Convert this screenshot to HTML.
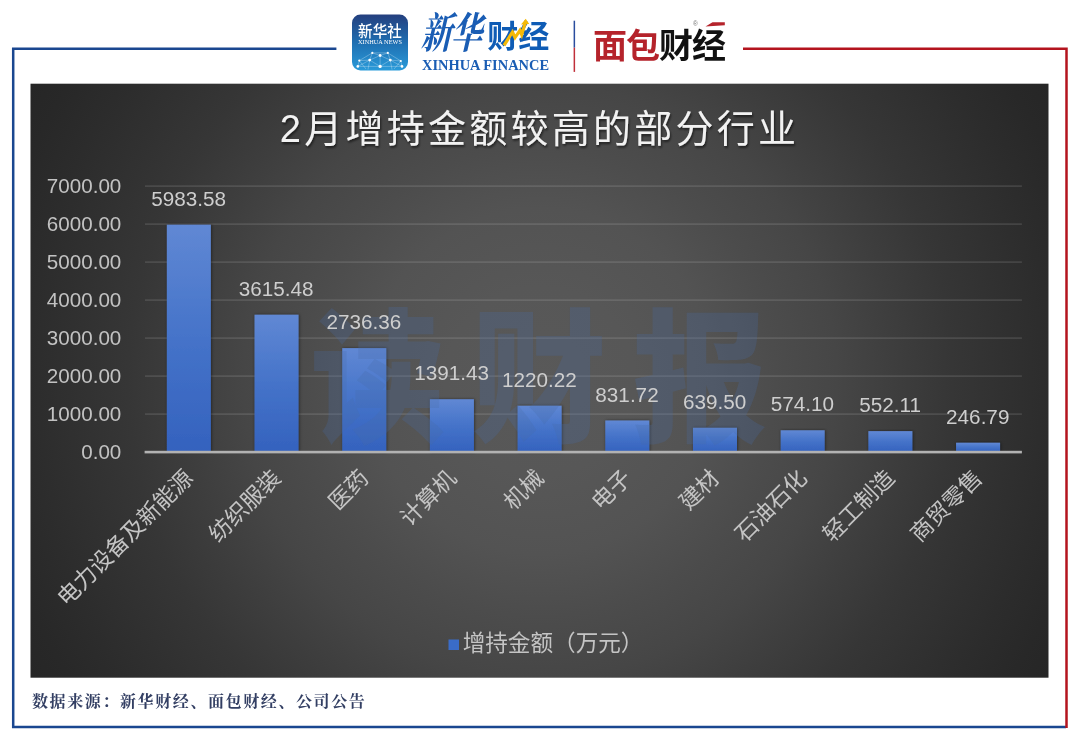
<!DOCTYPE html>
<html lang="zh-CN">
<head>
<meta charset="utf-8">
<title>2月增持金额较高的部分行业</title>
<style>
html,body{margin:0;padding:0;background:#fff;}
body{width:1080px;height:741px;overflow:hidden;position:relative;font-family:"Liberation Sans","Noto Sans CJK SC",sans-serif;}
svg{position:absolute;left:0;top:0;display:block;}
.ax{font-family:"Liberation Sans","Noto Sans CJK SC",sans-serif;font-size:20.6px;fill:#c2c2c2;}
.dl{font-family:"Liberation Sans","Noto Sans CJK SC",sans-serif;font-size:20.7px;fill:#cecece;}
.cat{font-family:"Liberation Sans","Noto Sans CJK SC",sans-serif;font-size:22.6px;fill:#c4c4c4;}
.ttl{font-family:"Liberation Sans","Noto Sans CJK SC",sans-serif;font-size:38px;font-weight:400;fill:#f2f2f2;letter-spacing:3.25px;}
.lg{font-family:"Liberation Sans","Noto Sans CJK SC",sans-serif;font-size:22.6px;fill:#c4c4c4;}
.src{font-family:"Liberation Serif","Noto Serif CJK SC",serif;font-size:16px;font-weight:700;fill:#333f63;letter-spacing:1.6px;}
.wm{font-family:"Liberation Sans","Noto Sans CJK SC",sans-serif;font-size:135px;font-weight:900;fill:#476ba7;fill-opacity:.25;letter-spacing:26px;}
</style>
</head>
<body>
<svg width="1080" height="741" viewBox="0 0 1080 741">
<defs>
<radialGradient id="bg" gradientUnits="userSpaceOnUse" cx="540" cy="381" r="589">
<stop offset="0" stop-color="#595959"/><stop offset="0.16" stop-color="#575757"/><stop offset="0.294" stop-color="#535353"/><stop offset="0.4" stop-color="#4c4c4c"/><stop offset="0.504" stop-color="#464646"/><stop offset="0.6" stop-color="#3e3e3e"/><stop offset="0.7" stop-color="#363636"/><stop offset="0.8" stop-color="#303030"/><stop offset="0.868" stop-color="#2c2c2c"/><stop offset="0.944" stop-color="#282828"/><stop offset="1" stop-color="#262626"/>
</radialGradient>
<linearGradient id="bar" x1="0" y1="0" x2="0" y2="1">
<stop offset="0" stop-color="#6088d4"/><stop offset=".5" stop-color="#4573c9"/><stop offset="1" stop-color="#3462be"/>
</linearGradient>
<filter id="bs" x="-30%" y="-10%" width="160%" height="120%"><feDropShadow dx="0.6" dy="0" stdDeviation="1.8" flood-color="#000" flood-opacity=".5"/></filter>
<filter id="ts" x="-5%" y="-20%" width="110%" height="150%"><feDropShadow dx="1" dy="2" stdDeviation="1.2" flood-color="#000" flood-opacity=".55"/></filter>
</defs>
<rect width="1080" height="741" fill="#fff"/>
<!-- frame -->
<path d="M336.4 48.8H13.2V726.9H1066" fill="none" stroke="#1a4790" stroke-width="2.5"/>
<path d="M743 48.8H1066.500V728.1" fill="none" stroke="#b4141e" stroke-width="2.5"/>
<!-- chart bg -->
<rect x="30.5" y="83.7" width="1018" height="594" fill="url(#bg)"/>

<rect x="145.0" y="413.35" width="876.9" height="1.5" fill="#ffffff" fill-opacity=".13"/>
<rect x="145.0" y="375.35" width="876.9" height="1.5" fill="#ffffff" fill-opacity=".13"/>
<rect x="145.0" y="337.35" width="876.9" height="1.5" fill="#ffffff" fill-opacity=".13"/>
<rect x="145.0" y="299.35" width="876.9" height="1.5" fill="#ffffff" fill-opacity=".13"/>
<rect x="145.0" y="261.35" width="876.9" height="1.5" fill="#ffffff" fill-opacity=".13"/>
<rect x="145.0" y="223.35000000000002" width="876.9" height="1.5" fill="#ffffff" fill-opacity=".13"/>
<rect x="145.0" y="185.35000000000002" width="876.9" height="1.5" fill="#ffffff" fill-opacity=".13"/>
<rect x="166.84" y="224.72" width="44.0" height="227.38" fill="url(#bar)" filter="url(#bs)"/>
<rect x="254.53" y="314.71" width="44.0" height="137.39" fill="url(#bar)" filter="url(#bs)"/>
<rect x="342.23" y="348.12" width="44.0" height="103.98" fill="url(#bar)" filter="url(#bs)"/>
<rect x="429.91" y="399.23" width="44.0" height="52.87" fill="url(#bar)" filter="url(#bs)"/>
<rect x="517.61" y="405.73" width="44.0" height="46.37" fill="url(#bar)" filter="url(#bs)"/>
<rect x="605.29" y="420.49" width="44.0" height="31.61" fill="url(#bar)" filter="url(#bs)"/>
<rect x="692.99" y="427.80" width="44.0" height="24.30" fill="url(#bar)" filter="url(#bs)"/>
<rect x="780.67" y="430.28" width="44.0" height="21.82" fill="url(#bar)" filter="url(#bs)"/>
<rect x="868.37" y="431.12" width="44.0" height="20.98" fill="url(#bar)" filter="url(#bs)"/>
<rect x="956.05" y="442.72" width="44.0" height="9.38" fill="url(#bar)" filter="url(#bs)"/>
<rect x="144.6" y="450.8" width="877.3" height="2.6" fill="#b2b2b2"/>
<text class="wm" transform="translate(310.5 430.9) scale(1 1.07)">读财报</text>
<text class="ax" transform="translate(121.3 459.10) scale(1 1)" text-anchor="end">0.00</text>
<text class="ax" transform="translate(121.3 421.10) scale(1 1)" text-anchor="end">1000.00</text>
<text class="ax" transform="translate(121.3 383.10) scale(1 1)" text-anchor="end">2000.00</text>
<text class="ax" transform="translate(121.3 345.10) scale(1 1)" text-anchor="end">3000.00</text>
<text class="ax" transform="translate(121.3 307.10) scale(1 1)" text-anchor="end">4000.00</text>
<text class="ax" transform="translate(121.3 269.10) scale(1 1)" text-anchor="end">5000.00</text>
<text class="ax" transform="translate(121.3 231.10) scale(1 1)" text-anchor="end">6000.00</text>
<text class="ax" transform="translate(121.3 193.10) scale(1 1)" text-anchor="end">7000.00</text>
<text class="dl" transform="translate(188.54 205.82)" text-anchor="middle">5983.58</text>
<text class="dl" transform="translate(276.23 295.81)" text-anchor="middle">3615.48</text>
<text class="dl" transform="translate(363.93 329.22)" text-anchor="middle">2736.36</text>
<text class="dl" transform="translate(451.61 380.33)" text-anchor="middle">1391.43</text>
<text class="dl" transform="translate(539.31 386.83)" text-anchor="middle">1220.22</text>
<text class="dl" transform="translate(627.00 401.59)" text-anchor="middle">831.72</text>
<text class="dl" transform="translate(714.69 408.90)" text-anchor="middle">639.50</text>
<text class="dl" transform="translate(802.38 411.38)" text-anchor="middle">574.10</text>
<text class="dl" transform="translate(890.07 412.22)" text-anchor="middle">552.11</text>
<text class="dl" transform="translate(977.75 423.82)" text-anchor="middle">246.79</text>
<text class="cat" transform="translate(194.54 479.4) rotate(-45)" text-anchor="end">电力设备及新能源</text>
<text class="cat" transform="translate(282.23 479.4) rotate(-45)" text-anchor="end">纺织服装</text>
<text class="cat" transform="translate(369.93 479.4) rotate(-45)" text-anchor="end">医药</text>
<text class="cat" transform="translate(457.61 479.4) rotate(-45)" text-anchor="end">计算机</text>
<text class="cat" transform="translate(545.31 479.4) rotate(-45)" text-anchor="end">机械</text>
<text class="cat" transform="translate(633.00 479.4) rotate(-45)" text-anchor="end">电子</text>
<text class="cat" transform="translate(720.69 479.4) rotate(-45)" text-anchor="end">建材</text>
<text class="cat" transform="translate(808.38 479.4) rotate(-45)" text-anchor="end">石油石化</text>
<text class="cat" transform="translate(896.07 479.4) rotate(-45)" text-anchor="end">轻工制造</text>
<text class="cat" transform="translate(983.75 479.4) rotate(-45)" text-anchor="end">商贸零售</text>
<text class="ttl" x="539.5" y="141.6" text-anchor="middle" filter="url(#ts)">2月增持金额较高的部分行业</text>
<rect x="448.5" y="639.5" width="10.5" height="10.5" fill="#3a6cc8"/>
<text class="lg" x="462.7" y="651">增持金额（万元）</text>
<text class="src" x="32" y="706.8">数据来源：新华财经、面包财经、公司公告</text>

<!-- Xinhua News icon -->
<defs>
<linearGradient id="ig" x1="0" y1="0" x2="0" y2="1"><stop offset="0" stop-color="#243f7e"/><stop offset=".5" stop-color="#1f6fb2"/><stop offset="1" stop-color="#2a9bd9"/></linearGradient>
</defs>
<rect x="352" y="14.6" width="56" height="56" rx="8.5" fill="url(#ig)"/>
<text transform="translate(380 37.2) scale(1 1.1)" text-anchor="middle" style="font-family:'Liberation Sans','Noto Sans CJK SC',sans-serif;font-size:14.6px;font-weight:500;fill:#fff;">新华社</text>
<text x="358" y="43.8" textLength="44" lengthAdjust="spacingAndGlyphs" style="font-family:'Liberation Serif',serif;font-size:5.4px;fill:#fff;">XINHUA NEWS</text>
<g stroke="#fff" stroke-opacity=".55" stroke-width=".5" fill="none">
<path d="M357.8 66.4L359.3 60.6L372.3 52.9L380.1 55.5L387.8 52.9L400.8 61L402 66.4"/>
<path d="M359.3 60.6L369.7 60.1L380.1 55.5L390.3 60.1L400.8 61"/>
<path d="M357.8 66.4L369.7 60.1L372.3 52.9M387.8 52.9L390.3 60.1L402 66.4"/>
<path d="M369.7 60.1L380.1 66.4L390.3 60.1M380.1 55.5V66.4M372.3 52.9H387.8"/>
<path d="M359.3 60.6L366 69M400.8 61L394 69M369.7 60.1L368 69.5M390.3 60.1L392 69.5M357.8 66.4L380.1 66.4L402 66.4"/>
</g>
<g fill="#fff">
<circle cx="372.3" cy="52.9" r="1.1"/><circle cx="380.1" cy="55.5" r="1.4"/><circle cx="387.8" cy="52.9" r="1.1"/>
<circle cx="359.3" cy="60.6" r="1.1"/><circle cx="369.7" cy="60.1" r="1.4"/><circle cx="390.3" cy="60.1" r="1.4"/><circle cx="400.8" cy="61" r="1.1"/>
<circle cx="357.8" cy="66.4" r="1.3"/><circle cx="380.1" cy="66.4" r="1.6"/><circle cx="402" cy="66.4" r="1.3"/>
</g>
<!-- Xinhua Finance -->
<text transform="translate(420.5 47.5) skewX(-13) scale(.86 1.18)" style="font-family:'Liberation Serif','Noto Serif CJK SC',serif;font-size:36px;font-weight:700;fill:#1a5db4;letter-spacing:-1px;">新华</text>
<text x="487.3" y="47.2" style="font-family:'Liberation Sans','Noto Sans CJK SC',sans-serif;font-size:31px;font-weight:700;fill:#0f5cb5;">财经</text>
<polyline points="504,45.3 512.5,32 515,37.6 520,30.4 521.7,34.6 525.2,23" fill="none" stroke="#f5b906" stroke-width="3.2" stroke-linejoin="miter"/>
<polygon points="521,24.4 525.7,18.8 529.2,24" fill="#f5b906"/>
<text x="422" y="70.3" textLength="127" lengthAdjust="spacingAndGlyphs" style="font-family:'Liberation Serif',serif;font-size:15px;font-weight:700;fill:#1a5db4;">XINHUA FINANCE</text>
<!-- divider -->
<rect x="573.6" y="20.7" width="1.5" height="27" fill="#2a4d9e"/>
<rect x="573.6" y="47.7" width="1.5" height="24.2" fill="#c0303a"/>
<!-- Mianbao Caijing -->
<text x="593" y="57.7" style="font-family:'Liberation Sans','Noto Sans CJK SC',sans-serif;font-size:34px;font-weight:700;fill:#b5232b;letter-spacing:-1px;">面包</text>
<text x="659" y="57.7" style="font-family:'Liberation Sans','Noto Sans CJK SC',sans-serif;font-size:34px;font-weight:700;fill:#111;letter-spacing:-1px;">财经</text>
<polygon points="705.5,26.4 712.5,22.2 724.8,22.2 724.8,25.2" fill="#b5232b"/>
<text x="693" y="26" style="font-family:'Liberation Sans',sans-serif;font-size:6.5px;fill:#777;">®</text>

</svg>
</body>
</html>
